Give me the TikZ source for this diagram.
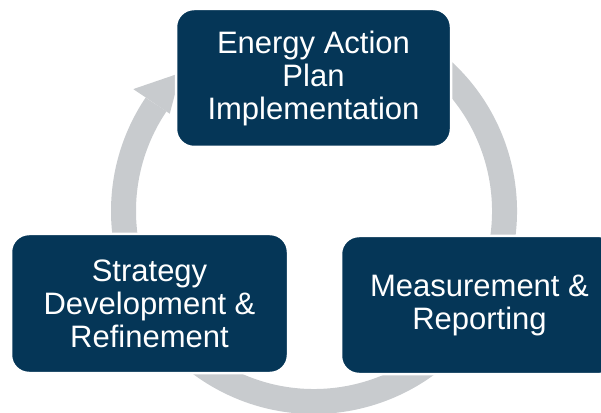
\documentclass[tikz,border=0pt]{standalone}
\usepackage{fontspec}
\setmainfont{Liberation Sans}
\definecolor{navy}{RGB}{5,54,87}
\definecolor{ringgray}{RGB}{200,203,206}
\begin{document}
\begin{tikzpicture}[x=1pt,y=1pt,
    stage/.style={draw=white, line width=2.5pt, fill=navy, rounded corners=18pt,
      text=white, align=center, inner sep=0pt,
      font=\fontsize{31}{33}\selectfont},
    ring/.style={ringgray, line width=25pt}]
  \useasboundingbox (0,0) rectangle (601,412);
  \coordinate (c) at (314,201);
  % grey cycle ring with its head
  \draw[ring] ([shift={(60:190.5)}]c) arc[start angle=60, end angle=-214, radius=190.5];
  \fill[ringgray] ([shift={(146:174)}]c) -- ([shift={(146:218)}]c)
    -- ([shift={(134:192)}]c) -- cycle;
  % the three stages
  \node[stage, minimum width=275pt, minimum height=138pt] (plan) at (313.5,334)
    {Energy Action\\Plan\\Implementation};
  \node[stage, minimum width=277pt, minimum height=139pt] (strat) at (149.5,108.5)
    {Strategy\\Development \&\\Refinement};
  \node[stage, minimum width=277pt, minimum height=138pt] (meas) at (479.5,107)
    {Measurement \&\\Reporting};
\end{tikzpicture}
\end{document}
